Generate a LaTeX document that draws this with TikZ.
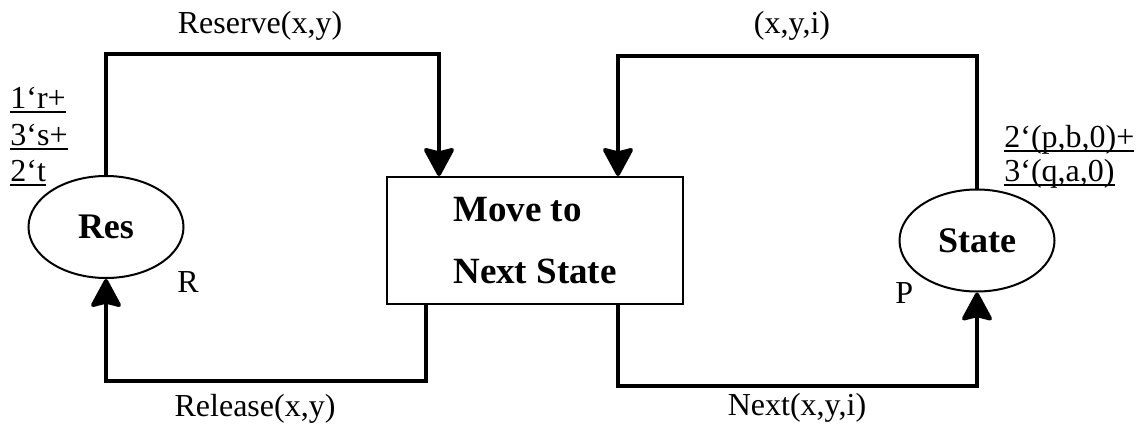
\documentclass[tikz,border=0pt]{standalone}
\usepackage{fontspec}
\setmainfont{Liberation Serif}
\usepackage{tikz}
\usetikzlibrary{shapes.geometric,arrows.meta}

\newcommand{\tokenline}[1]{\setbox0\hbox{#1}\rlap{\rule[-2.5pt]{\wd0}{0.9pt}}\box0}

\begin{document}
\begin{tikzpicture}[x=0.5pt,y=-0.5pt,
        place/.style = {ellipse, draw,
            line width=1pt,
            minimum width=77.5pt, minimum height=51pt, inner sep=0pt,
            font=\fontsize{18}{21}\selectfont\bfseries},
        trans/.style = {rectangle, draw,
            line width=1pt,
            minimum width=148pt, minimum height=63.5pt, inner sep=0pt,
            align=left,
            font=\fontsize{18.5}{31}\selectfont\bfseries},
        arc/.style = {line width=2pt,
            -{Stealth[length=15.5pt,width=16.5pt,inset=2pt,round]}},
        lbl/.style = {inner sep=0pt, anchor=base,
            font=\fontsize{16}{19}\selectfont},
        tok/.style = {lbl, anchor=base west}]

        \useasboundingbox (0,0) rectangle (1142,428);

        % Places
        \node[place] (res) at (106,227) {Res};
        \node[place] (state) at (977,240.5) {State};
        \node[tok] (rcol) at (177,292) {R};
        \node[tok] (pcol) at (895,303) {P};

        % Transition
        \node[trans] (move) at (535,240.5) {Move to\\Next State};

        % Initial markings
        \node[tok] (resa) at (10,108) {\tokenline{1`r+}};
        \node[tok] (resb) at (10,145) {\tokenline{3`s+}};
        \node[tok] (resc) at (10,181) {\tokenline{2`t}};
        \node[tok] (statea) at (1004,147) {\tokenline{2`(p,b,0)+}};
        \node[tok] (stateb) at (1004,181) {\tokenline{3`(q,a,0)}};

        % Arcs
        \draw[arc] (res.north) -- ++(0,-121) -| ([xshift=-48pt]move.north);
        \draw[arc] ([xshift=-54.5pt]move.south) -- ++(0,76) -| (res.south);
        \draw[arc] (state.north) -- ++(0,-133) -| ([xshift=41.5pt]move.north);
        \draw[arc] ([xshift=41.5pt]move.south) -- ++(0,81) -| (state.south);

        % Arc inscriptions
        \node[lbl] (reserve) at (260,33) {Reserve(x,y)};
        \node[lbl] (back) at (792,33) {(x,y,i)};
        \node[lbl] (release) at (255,416) {Release(x,y)};
        \node[lbl] (next) at (797,415) {Next(x,y,i)};
    \end{tikzpicture}
\end{document}
